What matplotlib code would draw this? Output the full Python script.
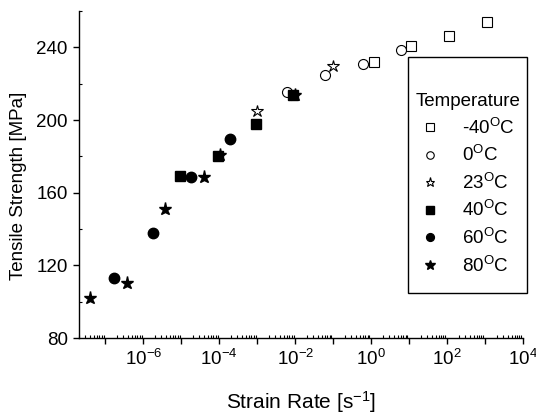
import matplotlib
matplotlib.use("Agg")
import matplotlib.pyplot as plt
from matplotlib.ticker import LogLocator, FuncFormatter, MultipleLocator, NullFormatter
from matplotlib.patches import Rectangle
import numpy as np

plt.rcParams['font.family'] = ['Liberation Sans', 'DejaVu Sans']
plt.rcParams['mathtext.fontset'] = 'custom'
plt.rcParams['mathtext.rm'] = 'Liberation Sans'
plt.rcParams['mathtext.it'] = 'Liberation Sans:italic'
plt.rcParams['mathtext.bf'] = 'Liberation Sans:bold'
plt.rcParams['axes.unicode_minus'] = False

# strain rate [1/s] and tensile strength [MPa] per temperature
labels = ['-40$^\\mathrm{O}$C', '0$^\\mathrm{O}$C', '23$^\\mathrm{O}$C',
          '40$^\\mathrm{O}$C', '60$^\\mathrm{O}$C', '80$^\\mathrm{O}$C']

rate_m40 = [1.15, 11.5, 112, 1150]
ts_m40 = [232, 241, 246.5, 254]

rate_0 = [5.9e-3, 0.062, 0.6, 6.0]
ts_0 = [215.5, 224.5, 231, 238.8]

rate_23 = [1.0e-3, 0.1]
ts_23 = [204.7, 229.7]

rate_40 = [9e-6, 9e-5, 9.3e-4, 8.5e-3]
ts_40 = [169.2, 180.4, 198, 213.8]

rate_60 = [1.7e-7, 1.8e-6, 1.8e-5, 1.9e-4]
ts_60 = [112.8, 137.6, 168.8, 189.5]

rate_80 = [4e-8, 3.8e-7, 3.8e-6, 3.9e-5, 1.07e-4, 1.0e-2]
ts_80 = [102, 110.4, 150.8, 168.4, 181, 213.8]

fig = plt.figure(figsize=(5.36, 4.15), dpi=100)
ax = fig.add_axes([0.147, 0.1855, 0.829, 0.788])

fs = 13.5
ax.plot(rate_m40, ts_m40, 's', ms=7, mfc='white', mec='black', mew=0.8, ls='none', label=labels[0], zorder=3)
ax.plot(rate_0, ts_0, 'o', ms=7.2, mfc='white', mec='black', mew=0.8, ls='none', label=labels[1], zorder=3)
ax.plot(rate_23, ts_23, '*', ms=9, mfc='white', mec='black', mew=0.8, ls='none', label=labels[2], zorder=3)
ax.plot(rate_40, ts_40, 's', ms=6.8, mfc='black', mec='black', ls='none', label=labels[3], zorder=4)
ax.plot(rate_60, ts_60, 'o', ms=7.5, mfc='black', mec='black', ls='none', label=labels[4], zorder=4)
ax.plot(rate_80, ts_80, '*', ms=9.5, mfc='black', mec='black', ls='none', label=labels[5], zorder=2)

ax.set_xscale('log')
ax.set_xlim(2e-8, 1e4)
ax.set_ylim(80, 260)

ax.spines['top'].set_visible(False)
ax.spines['right'].set_visible(False)
for s in ['left', 'bottom']:
    ax.spines[s].set_linewidth(1.0)

ax.xaxis.set_major_locator(LogLocator(base=10, numticks=30))
ax.xaxis.set_major_formatter(FuncFormatter(
    lambda v, p: '$10^{%d}$' % round(np.log10(v)) if round(np.log10(v)) % 2 == 0 else ''))
ax.xaxis.set_minor_locator(LogLocator(base=10, subs=np.arange(2, 10), numticks=30))
ax.xaxis.set_minor_formatter(NullFormatter())
ax.set_yticks([80, 120, 160, 200, 240])
ax.yaxis.set_minor_locator(MultipleLocator(20))

ax.tick_params(which='major', direction='out', length=4, width=1, labelsize=fs, pad=4)
ax.tick_params(which='minor', direction='in', length=2, width=0.8)

ax.set_xlabel('Strain Rate [s$^{-1}$]', fontsize=15, labelpad=14)
ax.set_ylabel('Tensile Strength [MPa]', fontsize=fs)
ax.yaxis.set_label_coords(-0.117, 0.466)

ax.add_patch(Rectangle((0.741, 0.1376), 0.268, 0.7214, transform=ax.transAxes,
                       fill=False, edgecolor='black', linewidth=1.0, clip_on=False, zorder=5))
leg = ax.legend(title='Temperature', loc='center', bbox_to_anchor=(0.875, 0.47),
                frameon=False, fontsize=fs, title_fontsize=fs, markerscale=0.75,
                handlelength=1.0, handletextpad=1.2, labelspacing=0.4)

fig.savefig('out.png', dpi=100)
